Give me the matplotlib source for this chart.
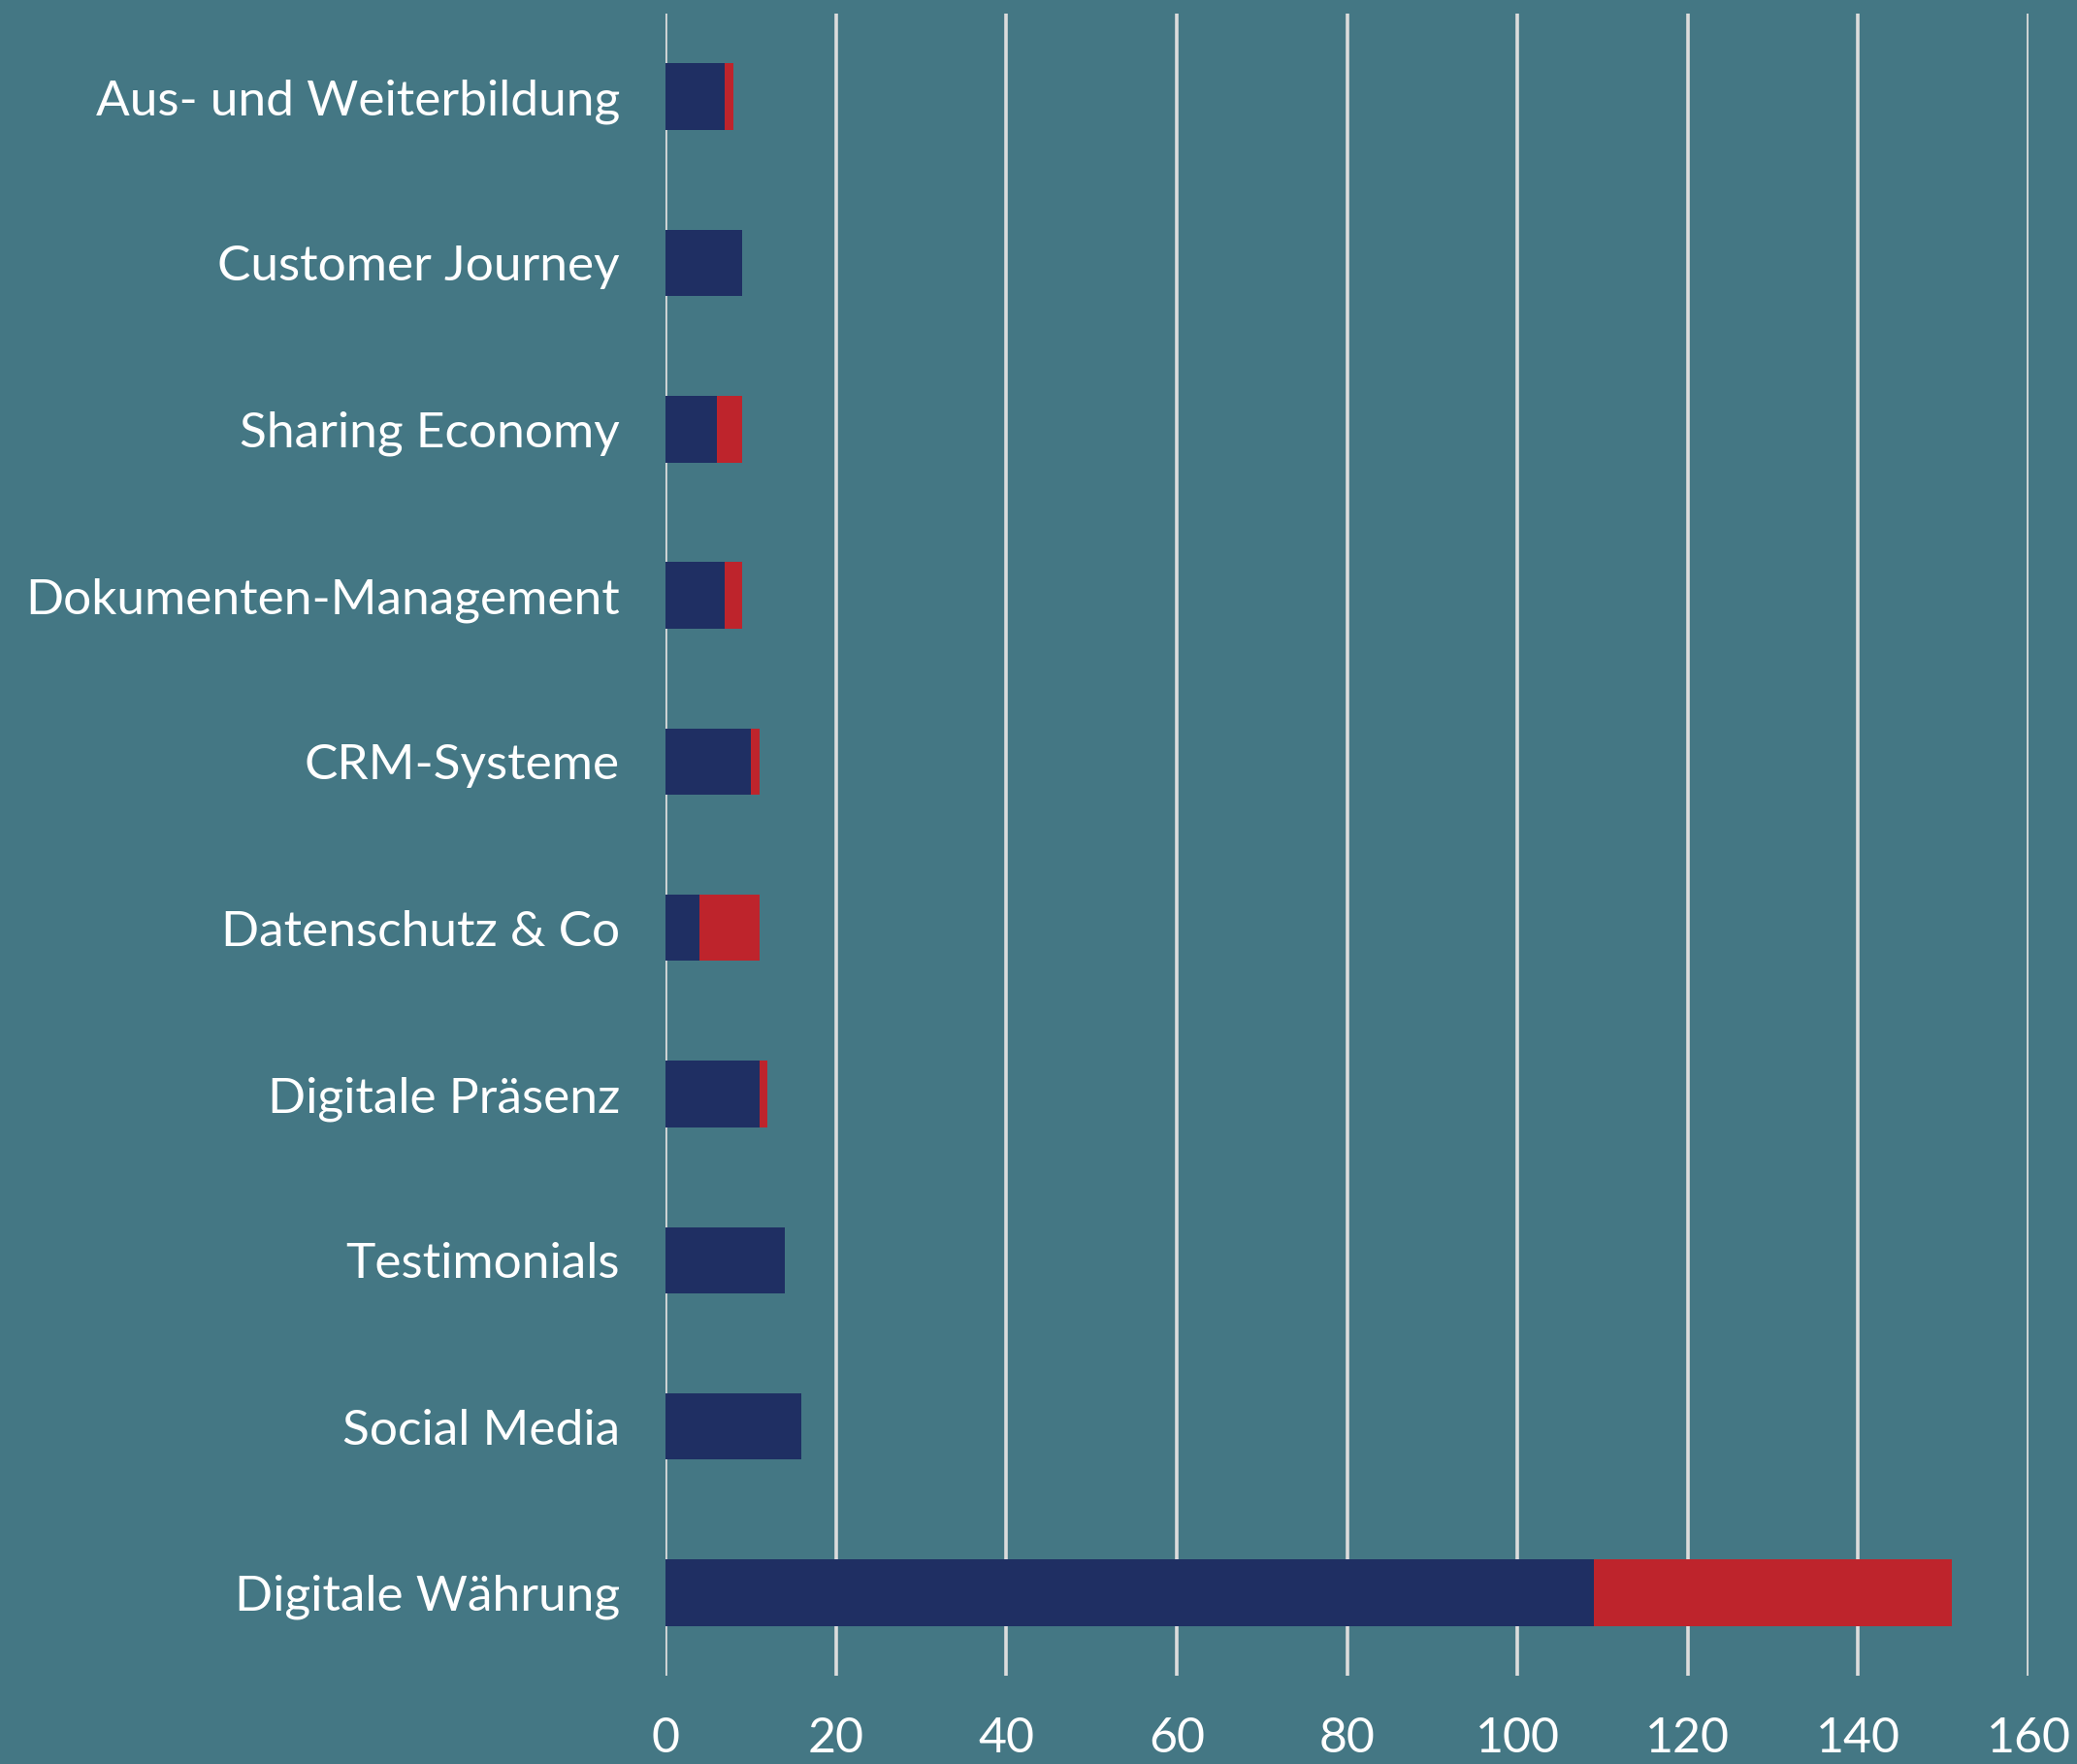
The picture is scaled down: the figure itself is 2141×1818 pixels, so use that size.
import numpy as np
import matplotlib.pyplot as plt

# Themen (von oben nach unten)
themen = ["Aus- und Weiterbildung", "Customer Journey", "Sharing Economy",
          "Dokumenten-Management", "CRM-Systeme", "Datenschutz & Co",
          "Digitale Präsenz", "Testimonials", "Social Media", "Digitale Währung"]
blau = [7, 9, 6, 7, 10, 4, 11, 14, 16, 109]
rot = [1, 0, 3, 2, 1, 7, 1, 0, 0, 42]
xticks = [0, 20, 40, 60, 80, 100, 120, 140, 160]

bg = "#447784"
plt.rcParams['font.family'] = ['Lato', 'DejaVu Sans']

fig = plt.figure(figsize=(21.41, 18.18), dpi=100, facecolor=bg)
ax = fig.add_axes([0.3204, 0.05, 0.6563, 0.9423])
ax.set_facecolor(bg)

y = np.arange(len(themen))
ax.barh(y, blau, height=0.4, color="#1f2f63", zorder=3)
ax.barh(y, rot, left=blau, height=0.4, color="#be242c", zorder=3)

ax.set_xlim(0, 160)
ax.set_ylim(len(themen) - 0.5, -0.5)
ax.set_xticks(xticks)
ax.set_yticks(y)
ax.set_yticklabels(themen)
ax.grid(axis="x", color="#dcdcdc", linewidth=2.6, zorder=1)
for s in ax.spines.values():
    s.set_visible(False)
ax.tick_params(axis="y", length=0, pad=34, labelsize=37, labelcolor="white")
ax.tick_params(axis="x", length=0, pad=30, labelsize=36, labelcolor="white")

fig.savefig("out.png", dpi=100, facecolor=bg)
